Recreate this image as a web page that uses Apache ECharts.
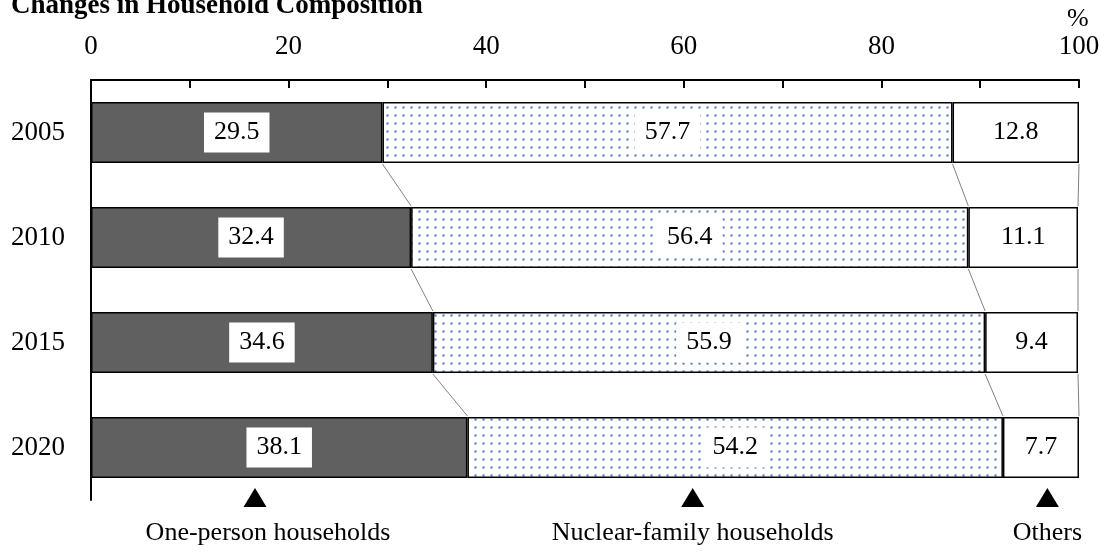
<!DOCTYPE html>
<html>
<head>
<meta charset="utf-8">
<script src="https://cdn.jsdelivr.net/npm/echarts@6/dist/echarts.min.js"></script>
<style>
    html, body { margin: 0; padding: 0; background: #fff; }
    #main { width: 1107px; height: 552px; }
</style>
</head>
<body>
<div id="main"></div>
<script type="text/javascript">
    // 数据
    var years = ['2005', '2010', '2015', '2020'];
    var onePerson = [29.5, 32.4, 34.6, 38.1];
    var nuclear = [57.7, 56.4, 55.9, 54.2];
    var others = [12.8, 11.1, 9.4, 7.7];
    var xTicks = [0, 20, 40, 60, 80, 100];
    // 下方三角标注 [x值, 文字]
    var markers = [[16.6, 'One-person households'], [60.9, 'Nuclear-family households'], [96.8, 'Others']];

    var FONT = '"Liberation Serif", "Times New Roman", serif';
    var BAR_W = 61;
    var MARK_TEXT_DX = [13, 0, 0];

    // 点状填充
    var tile = document.createElement('canvas');
    tile.width = 8; tile.height = 8;
    var tctx = tile.getContext('2d');
    tctx.fillStyle = '#ffffff';
    tctx.fillRect(0, 0, 8, 8);
    tctx.fillStyle = '#c3d3ee';
    tctx.fillRect(2, 2, 3, 3);
    tctx.fillStyle = '#5f8ad4';
    tctx.fillRect(3, 3, 1, 1);
    tctx.fillStyle = '#94b0e1';
    tctx.fillRect(3, 2, 1, 1);
    tctx.fillRect(2, 3, 1, 1);
    tctx.fillRect(4, 3, 1, 1);
    tctx.fillRect(3, 4, 1, 1);

    // 连接线数据: [本年累计, 年份索引, 下一年累计]
    var cum1 = onePerson;
    var cum2 = onePerson.map(function (v, i) { return v + nuclear[i]; });
    var cum3 = cum2.map(function (v, i) { return v + others[i]; });
    var links = [];
    [cum1, cum2, cum3].forEach(function (c) {
        for (var i = 0; i < c.length - 1; i++) {
            links.push([c[i], i, c[i + 1]]);
        }
    });

    var labelStyle = {
        show: true,
        position: 'inside',
        color: '#000',
        fontSize: 26,
        fontFamily: FONT,
        backgroundColor: '#fff',
        padding: [8, 10, 6, 10],
        formatter: function (p) { return p.value.toFixed(1); }
    };

    var myChart = echarts.init(document.getElementById('main'));
    var option = {
        animation: false,
        title: {
            text: 'Changes in Household Composition',
            left: 11,
            top: -7,
            padding: 0,
            textStyle: { fontFamily: FONT, fontSize: 27, fontWeight: 'bold', color: '#000' }
        },
        graphic: [{
            type: 'text',
            left: 1067,
            top: 6,
            style: { text: '%', font: '26px ' + FONT, fill: '#000' }
        }],
        grid: { left: 91, right: 28, top: 80, height: 420 },
        xAxis: {
            type: 'value',
            position: 'top',
            min: 0,
            max: 100,
            interval: 20,
            axisLine: { show: true, lineStyle: { color: '#000', width: 2 } },
            axisTick: { show: true, inside: true, length: 8, lineStyle: { color: '#000', width: 2 } },
            minorTick: { show: true, splitNumber: 2, length: 8, lineStyle: { color: '#000', width: 2 } },
            splitLine: { show: false },
            axisLabel: {
                margin: 20,
                fontSize: 27,
                fontFamily: FONT,
                color: '#000',
                formatter: function (v) { return xTicks.indexOf(v) >= 0 ? String(v) : ''; }
            }
        },
        yAxis: {
            type: 'category',
            inverse: true,
            data: years,
            axisLine: { show: true, lineStyle: { color: '#000', width: 2 } },
            axisTick: { show: false },
            axisLabel: { margin: 26, fontSize: 27, fontFamily: FONT, color: '#000' }
        },
        series: [
            {
                name: 'One-person households',
                type: 'bar',
                stack: 'all',
                barWidth: BAR_W,
                itemStyle: { color: '#606060', borderColor: '#000', borderWidth: 1.5 },
                label: labelStyle,
                data: onePerson
            },
            {
                name: 'Nuclear-family households',
                type: 'bar',
                stack: 'all',
                barWidth: BAR_W,
                itemStyle: { color: { image: tile, repeat: 'repeat' }, borderColor: '#000', borderWidth: 1.5 },
                label: labelStyle,
                data: nuclear
            },
            {
                name: 'Others',
                type: 'bar',
                stack: 'all',
                barWidth: BAR_W,
                itemStyle: { color: '#fff', borderColor: '#000', borderWidth: 1.5 },
                label: labelStyle,
                data: others
            },
            {
                // 柱间连接线
                type: 'custom',
                silent: true,
                data: links,
                renderItem: function (params, api) {
                    var p1 = api.coord([api.value(0), api.value(1)]);
                    var p2 = api.coord([api.value(2), api.value(1) + 1]);
                    return {
                        type: 'line',
                        shape: { x1: p1[0], y1: p1[1] + BAR_W / 2 + 1, x2: p2[0], y2: p2[1] - BAR_W / 2 - 1 },
                        style: { stroke: '#808080', lineWidth: 1 }
                    };
                }
            },
            {
                // 下方三角和说明文字
                type: 'custom',
                silent: true,
                clip: false,
                data: markers,
                encode: { x: 0 },
                renderItem: function (params, api) {
                    var m = markers[params.dataIndex];
                    var p = api.coord([m[0], years.length - 1]);
                    var x = p[0];
                    var y = p[1] + BAR_W / 2;
                    return {
                        type: 'group',
                        children: [{
                            type: 'polygon',
                            shape: { points: [[x, y + 10], [x - 11.5, y + 29], [x + 11.5, y + 29]] },
                            style: { fill: '#000' }
                        }, {
                            type: 'text',
                            x: x + MARK_TEXT_DX[params.dataIndex],
                            y: y + 55,
                            style: {
                                text: m[1],
                                fill: '#000',
                                font: '26px ' + FONT,
                                align: 'center',
                                verticalAlign: 'middle'
                            }
                        }]
                    };
                }
            }
        ]
    };

    myChart.setOption(option);
</script>
</body>
</html>
